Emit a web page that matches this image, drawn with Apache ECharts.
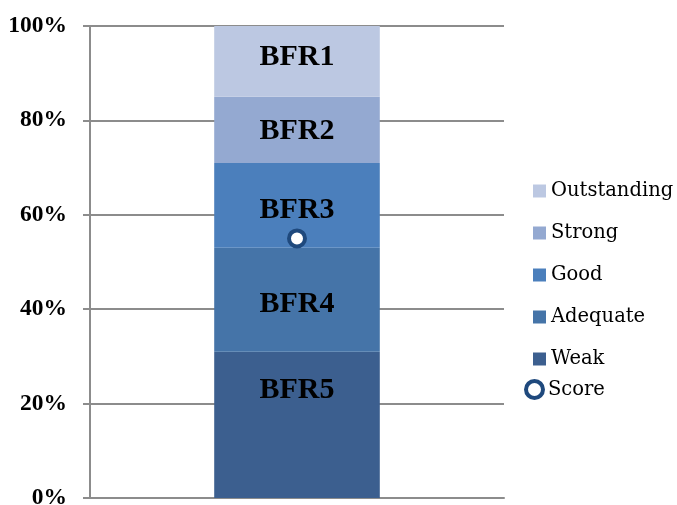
<!DOCTYPE html>
<html>
<head>
<meta charset="utf-8">
<script src="https://cdn.jsdelivr.net/npm/echarts@6/dist/echarts.min.js"></script>
<style>
  html, body { margin: 0; padding: 0; background: #fff; }
  #chart { width: 677px; height: 505px; }
</style>
</head>
<body>
<div id="chart"></div>
<script>
// bands, bottom to top
const bandNames = ["Weak", "Adequate", "Good", "Strong", "Outstanding"]
const bandLabels = ["BFR5", "BFR4", "BFR3", "BFR2", "BFR1"]
const bandSizes = [31, 22, 18, 14, 15]
const scoreValue = [55]
const categories = ["Score"]
const yTicks = [0, 20, 40, 60, 80, 100]

const bandColors = ["#3c5f8f", "#4574a8", "#4b7fbc", "#94a9d1", "#bcc8e2"]
// label nudges so the text sits where the original has it
const labelOffsets = [[0, -35], [0, 4], [0, 5], [0, 1], [0, -4]]
const serif = "'Liberation Serif', 'Times New Roman', Times, serif"

const chart = echarts.init(document.getElementById("chart"))

const barSeries = bandNames.map((name, i) => ({
  name,
  type: "bar",
  stack: "bands",
  barWidth: "40%",
  data: [bandSizes[i]],
  itemStyle: { color: bandColors[i] },
  label: {
    show: true,
    position: "inside",
    offset: labelOffsets[i],
    formatter: bandLabels[i],
    color: "#000",
    fontFamily: serif,
    fontWeight: "bold",
    fontSize: 30
  }
}))

const legendText = { fontFamily: "DejaVu Serif", fontSize: 19.5, color: "#000" }

chart.setOption({
  animation: false,
  grid: { left: 90, right: 173, top: 26, bottom: 7, outerBoundsMode: "none" },
  legend: [{
    data: bandNames.slice().reverse(),
    orient: "vertical",
    left: 528,
    top: 176,
    itemWidth: 13,
    itemHeight: 13,
    itemGap: 22,
    icon: "rect",
    textStyle: legendText
  }, {
    data: [{ name: "Score", itemStyle: { borderWidth: 4 } }],
    orient: "vertical",
    left: 519,
    top: 374,
    itemWidth: 17,
    itemHeight: 17,
    itemGap: 4,
    textStyle: legendText
  }],
  xAxis: {
    type: "category",
    data: categories,
    axisLine: { lineStyle: { color: "#8c8c8c", width: 2 } },
    axisTick: { show: false },
    axisLabel: { show: false }
  },
  yAxis: {
    type: "value",
    min: yTicks[0],
    max: yTicks[yTicks.length - 1],
    interval: 20,
    axisLine: { show: true, lineStyle: { color: "#8c8c8c", width: 2 } },
    axisTick: { show: true, length: 7, lineStyle: { color: "#8c8c8c", width: 2 } },
    splitLine: { lineStyle: { color: "#8c8c8c", width: 2 } },
    axisLabel: {
      formatter: "{value}%",
      margin: 23,
      color: "#000",
      fontFamily: serif,
      fontWeight: "bold",
      fontSize: 23.5
    }
  },
  series: barSeries.concat([{
    name: "Score",
    type: "scatter",
    data: scoreValue,
    symbol: "circle",
    symbolSize: 16,
    z: 5,
    itemStyle: { color: "#fff", borderColor: "#1f497d", borderWidth: 4, opacity: 1 }
  }])
})
</script>
</body>
</html>
